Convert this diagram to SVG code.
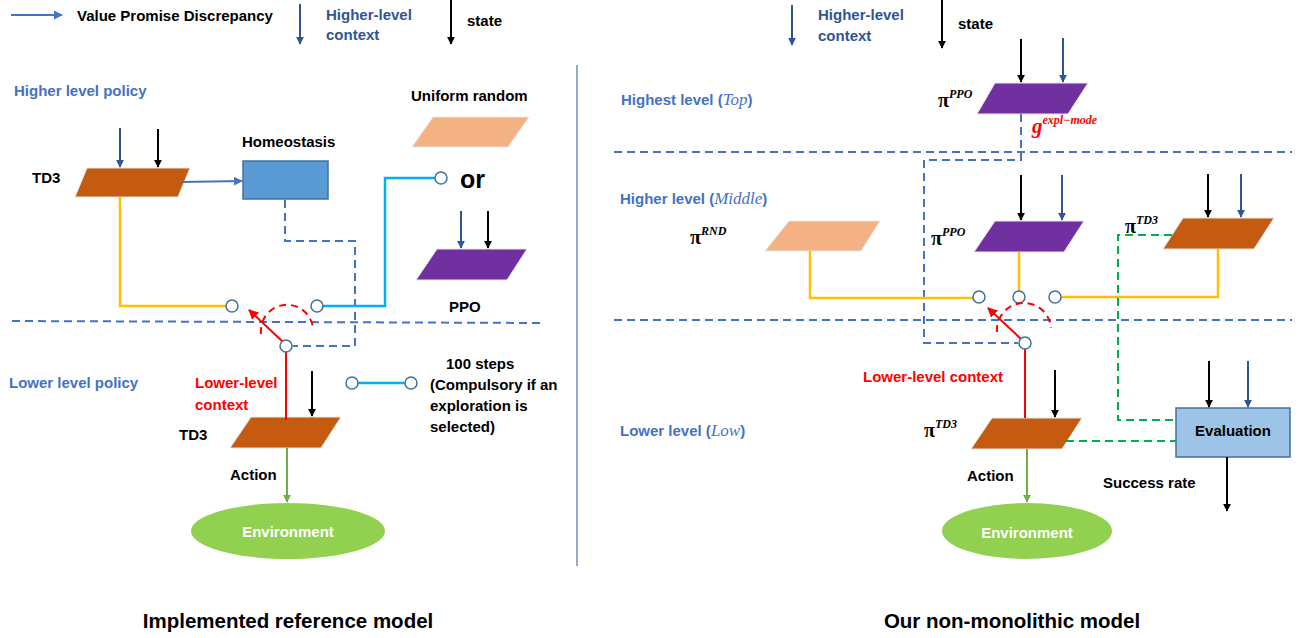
<svg xmlns="http://www.w3.org/2000/svg" width="1299" height="638" viewBox="0 0 1299 638">
<style>
text{font-family:"Liberation Sans",Arial,sans-serif;font-weight:bold;font-size:15px;fill:#000}
.blue{fill:#4472C4}
.dblue{fill:#2F5597}
.red{fill:#FF0000}
.white{fill:#fff}
.title{font-size:20.5px}
.big{font-size:25px}
.math{font-family:"Liberation Serif","Times New Roman",serif;font-weight:bold}
.mi{font-family:"Liberation Serif","Times New Roman",serif;font-style:italic;font-weight:normal}
.sup{font-size:12px;font-style:italic}
.td3{fill:#C55A11;stroke:#E8E8E8;stroke-width:1}
.ppo{fill:#7030A0;stroke:#E8E8E8;stroke-width:1}
.rnd{fill:#F4B183;stroke:#E8E8E8;stroke-width:1}
.k{stroke:#000;stroke-width:2}
.b{stroke:#2F5597;stroke-width:2}
.lb{stroke:#4472C4;stroke-width:2}
.dash{stroke:#4472C4;stroke-width:2;stroke-dasharray:8 5;fill:none}
.gdash{stroke:#00B050;stroke-width:2;stroke-dasharray:8 5;fill:none}
.yel{stroke:#FFC000;stroke-width:2.5;fill:none}
.cy{stroke:#00B0F0;stroke-width:2.5;fill:none}
.rd{stroke:#FF0000;stroke-width:2;fill:none}
.rdash{stroke:#FF0000;stroke-width:2;stroke-dasharray:7 5;fill:none}
.gr{stroke:#70AD47;stroke-width:2;fill:none}
.sw{fill:#fff;stroke:#41719C;stroke-width:1.5}
</style>
<defs>
<marker id="ak" viewBox="0 0 10 10" refX="9" refY="5" markerWidth="8" markerHeight="9" markerUnits="userSpaceOnUse" orient="auto"><path d="M0,0 L10,5 L0,10 z" fill="#000"/></marker>
<marker id="ab" viewBox="0 0 10 10" refX="9" refY="5" markerWidth="8" markerHeight="9" markerUnits="userSpaceOnUse" orient="auto"><path d="M0,0 L10,5 L0,10 z" fill="#2F5597"/></marker>
<marker id="alb" viewBox="0 0 10 10" refX="9" refY="5" markerWidth="9" markerHeight="9" markerUnits="userSpaceOnUse" orient="auto"><path d="M0,0 L10,5 L0,10 z" fill="#4472C4"/></marker>
<marker id="ag" viewBox="0 0 10 10" refX="9" refY="5" markerWidth="8" markerHeight="9" markerUnits="userSpaceOnUse" orient="auto"><path d="M0,0 L10,5 L0,10 z" fill="#70AD47"/></marker>
<marker id="ar" viewBox="0 0 10 10" refX="9" refY="5" markerWidth="10" markerHeight="10" markerUnits="userSpaceOnUse" orient="auto"><path d="M0,0 L10,5 L0,10 z" fill="#FF0000"/></marker>
</defs>

<!-- Legend -->
<g id="legend">
<line class="lb" x1="11" y1="15" x2="62" y2="15" marker-end="url(#alb)"/>
<text x="77" y="21">Value Promise Discrepancy</text>
<line class="b" x1="300" y1="4" x2="300" y2="44" marker-end="url(#ab)"/>
<text class="dblue" x="326" y="20">Higher-level</text>
<text class="dblue" x="326" y="40">context</text>
<line class="k" x1="451" y1="0" x2="451" y2="44" marker-end="url(#ak)"/>
<text x="467" y="26">state</text>
<line class="b" x1="792" y1="5" x2="792" y2="45" marker-end="url(#ab)"/>
<text class="dblue" x="818" y="20">Higher-level</text>
<text class="dblue" x="818" y="41">context</text>
<line class="k" x1="942" y1="0" x2="942" y2="48" marker-end="url(#ak)"/>
<text x="958" y="29">state</text>
</g>

<!-- Level labels and separators -->
<g id="levels">
<text class="blue" x="14" y="96">Higher level policy</text>
<text class="blue" x="9" y="388">Lower level policy</text>
<text class="blue" x="621" y="105">Highest level (<tspan class="mi" font-size="17">Top</tspan>)</text>
<text class="blue" x="620" y="204">Higher level (<tspan class="mi" font-size="17">Middle</tspan>)</text>
<text class="blue" x="620" y="436">Lower level (<tspan class="mi" font-size="17">Low</tspan>)</text>
<line class="dash" x1="12" y1="321" x2="545" y2="323"/>
<line class="dash" x1="614" y1="152" x2="1292" y2="152"/>
<line class="dash" x1="614" y1="320" x2="1292" y2="320"/>
<line x1="577" y1="65" x2="577" y2="566" stroke="#2F5597" stroke-width="1"/>
<text class="title" x="288" y="628" text-anchor="middle">Implemented reference model</text>
<text class="title" x="1012" y="628" text-anchor="middle">Our non-monolithic model</text>
</g>

<!-- Left model nodes -->
<g id="l-td3-high">
<polygon class="td3" points="87,168 190,168 178,197 75,197"/>
<text x="32" y="183">TD3</text>
</g>
<g id="l-homeostasis">
<rect x="243" y="161" width="85" height="38" fill="#5B9BD5" stroke="#41719C" stroke-width="1.5"/>
<text x="242" y="147">Homeostasis</text>
</g>
<g id="l-uniform">
<polygon class="rnd" points="433,117 529,117 508,147 412,147"/>
<text x="411" y="101">Uniform random</text>
</g>
<g id="l-or">
<text class="big" x="460" y="188">or</text>
</g>
<g id="l-ppo">
<polygon class="ppo" points="437,249 527,249 507,280 416,280"/>
<text x="449" y="312">PPO</text>
</g>
<g id="l-td3-low">
<polygon class="td3" points="251,417 341,417 321,448 230,448"/>
<text x="179" y="440">TD3</text>
<text class="red" x="195" y="388">Lower-level</text>
<text class="red" x="195" y="410">context</text>
</g>
<g id="l-env">
<ellipse cx="288" cy="531" rx="97" ry="28" fill="#92D050"/>
<text class="white" x="288" y="537" text-anchor="middle">Environment</text>
</g>
<g id="l-steps">
<text x="446" y="369">100 steps</text>
<text x="430" y="390">(Compulsory if an</text>
<text x="430" y="411">exploration is</text>
<text x="430" y="432">selected)</text>
</g>
<g id="l-action"><text x="230" y="480">Action</text></g>

<!-- Right model nodes -->
<g id="r-ppo-top">
<polygon class="ppo" points="995,83 1088,83 1068,114 977,114"/>
<text class="math" x="938" y="107"><tspan font-size="20">π</tspan><tspan class="sup" dy="-9">PPO</tspan></text>
</g>
<g id="r-gmode">
<text class="math red" x="1032" y="133" font-style="italic"><tspan font-size="21">g</tspan><tspan font-size="12" dy="-9">expl−mode</tspan></text>
</g>
<g id="r-rnd">
<polygon class="rnd" points="789,221 880,221 861,251 765,251"/>
<text class="math" x="690" y="244"><tspan font-size="20">π</tspan><tspan class="sup" dy="-9">RND</tspan></text>
</g>
<g id="r-ppo-mid">
<polygon class="ppo" points="995,221 1084,221 1064,252 974,252"/>
<text class="math" x="931" y="245"><tspan font-size="20">π</tspan><tspan class="sup" dy="-9">PPO</tspan></text>
</g>
<g id="r-td3-mid">
<polygon class="td3" points="1183,218 1274,218 1254,249 1163,249"/>
<text class="math" x="1125" y="233"><tspan font-size="20">π</tspan><tspan class="sup" dy="-9">TD3</tspan></text>
</g>
<g id="r-td3-low">
<polygon class="td3" points="992,418 1082,418 1062,449 971,449"/>
<text class="math" x="924" y="437"><tspan font-size="20">π</tspan><tspan class="sup" dy="-9">TD3</tspan></text>
<text class="red" x="863" y="382">Lower-level context</text>
</g>
<g id="r-eval">
<rect x="1176" y="408" width="114" height="49" fill="#9DC3E6" stroke="#41719C" stroke-width="1.5"/>
<text x="1233" y="436" text-anchor="middle">Evaluation</text>
<text x="1103" y="488">Success rate</text>
</g>
<g id="r-env">
<ellipse cx="1027" cy="531" rx="85" ry="28" fill="#92D050"/>
<text class="white" x="1027" y="538" text-anchor="middle">Environment</text>
</g>
<g id="r-action"><text x="967" y="481">Action</text></g>

<!-- Connectors -->
<g id="connectors">
<line class="b" x1="120" y1="128" x2="120" y2="167" marker-end="url(#ab)"/>
<line class="k" x1="158" y1="129" x2="158" y2="167" marker-end="url(#ak)"/>
<line class="b" x1="461" y1="211" x2="461" y2="248" marker-end="url(#ab)"/>
<line class="k" x1="488" y1="211" x2="488" y2="248" marker-end="url(#ak)"/>
<line class="lb" x1="181" y1="182" x2="242" y2="181" marker-end="url(#alb)"/>
<path class="dash" d="M285,200 V241 H355 V346 H293"/>
<path class="yel" d="M120,197 V306 H226"/>
<path class="cy" d="M323,306 H385 V178 H435"/>
<line class="cy" x1="358" y1="383" x2="405" y2="383"/>
<circle class="sw" cx="232" cy="306" r="6"/>
<circle class="sw" cx="317" cy="306" r="6"/>
<circle class="sw" cx="441" cy="178" r="6"/>
<circle class="sw" cx="352" cy="383" r="6"/>
<circle class="sw" cx="411" cy="383" r="6"/>
<line class="rd" x1="283" y1="342" x2="249" y2="310" marker-end="url(#ar)"/>
<path class="rdash" d="M261,334 A26,26 0 0 1 313,328"/>
<line class="rd" x1="286" y1="352" x2="286" y2="420"/>
<circle class="sw" cx="286" cy="346" r="6"/>
<line class="k" x1="312" y1="371" x2="312" y2="416" marker-end="url(#ak)"/>
<line class="gr" x1="287" y1="448" x2="287" y2="502" marker-end="url(#ag)"/>

<line class="k" x1="1021" y1="39" x2="1021" y2="82" marker-end="url(#ak)"/>
<line class="b" x1="1063" y1="38" x2="1063" y2="82" marker-end="url(#ab)"/>
<line class="k" x1="1021" y1="175" x2="1021" y2="220" marker-end="url(#ak)"/>
<line class="b" x1="1062" y1="175" x2="1062" y2="220" marker-end="url(#ab)"/>
<line class="k" x1="1208" y1="174" x2="1208" y2="217" marker-end="url(#ak)"/>
<line class="b" x1="1241" y1="174" x2="1241" y2="217" marker-end="url(#ab)"/>
<line class="k" x1="1209" y1="361" x2="1209" y2="407" marker-end="url(#ak)"/>
<line class="b" x1="1248" y1="361" x2="1248" y2="407" marker-end="url(#ab)"/>
<line class="k" x1="1227" y1="457" x2="1227" y2="511" marker-end="url(#ak)"/>
<line class="k" x1="1055" y1="370" x2="1055" y2="417" marker-end="url(#ak)"/>
<path class="dash" d="M1021,114 V160 H924 V343 H1018"/>
<path class="yel" d="M810,251 V298 H973"/>
<path class="yel" d="M1019,252 V291"/>
<path class="yel" d="M1218,249 V297 H1061"/>
<path class="gdash" d="M1172,235 H1118 V420 H1176"/>
<path class="gdash" d="M1066,441 H1176"/>
<circle class="sw" cx="979" cy="297" r="6"/>
<circle class="sw" cx="1019" cy="297" r="6"/>
<circle class="sw" cx="1055" cy="297" r="6"/>
<line class="rd" x1="1021" y1="339" x2="988" y2="308" marker-end="url(#ar)"/>
<path class="rdash" d="M997,332 A27,27 0 0 1 1051,328"/>
<line class="rd" x1="1025" y1="349" x2="1025" y2="418"/>
<circle class="sw" cx="1025" cy="343" r="6"/>
<line class="gr" x1="1027" y1="449" x2="1027" y2="502" marker-end="url(#ag)"/>
</g>
</svg>
